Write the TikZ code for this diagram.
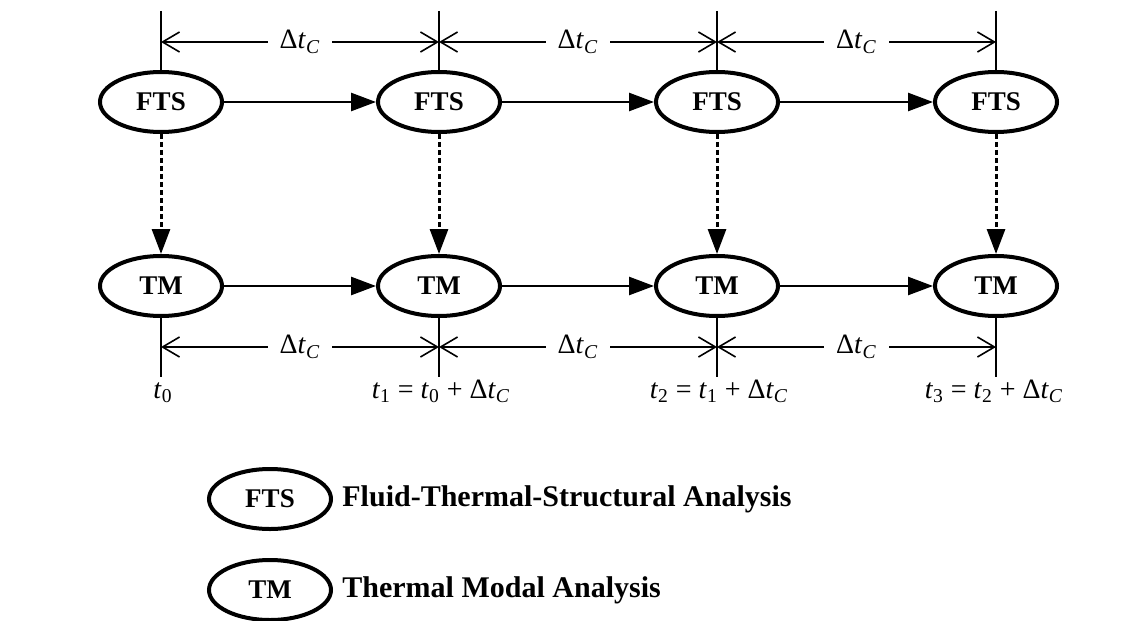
\documentclass[tikz,border=0pt]{standalone}
\usepackage{fontspec}
\setmainfont{Liberation Serif}
\usetikzlibrary{positioning,arrows.meta,shapes.geometric}

\newcommand{\dtc}{Δ\textit{t}\textsubscript{\textit{C}}}
\newcommand{\tk}[1]{\textit{t}\textsubscript{#1}}

\tikzset{
  stage/.style={ellipse, draw, line width=2pt, minimum width=61pt, minimum height=30pt,
    inner sep=0pt, font=\fontsize{13.5}{16}\selectfont\bfseries},
  flow/.style={-{Triangle[length=12.5pt,width=9pt]}, line width=1.3pt},
  couple/.style={flow, line width=1.5pt, dash pattern=on 2.5pt off 1.5pt},
  span/.style={{Straight Barb[length=8.5pt,width=10pt]}-{Straight Barb[length=8.5pt,width=10pt]}, line width=0.8pt},
  tick/.style={line width=0.8pt},
  dlabel/.style={fill=white, inner xsep=6pt, font=\fontsize{14}{16}\selectfont},
  tlabel/.style={anchor=base, inner sep=0pt, font=\fontsize{14}{16}\selectfont},
  keytext/.style={inner xsep=0pt, font=\fontsize{15}{18}\selectfont\bfseries}
}

\begin{document}
\begin{tikzpicture}[x=0.5pt, y=-0.5pt]
  \useasboundingbox (0,0) rectangle (1143,620);

  % stages in time, coupled top to bottom
  \foreach \i/\x in {0/161, 1/439, 2/717, 3/996} {
    \node[stage] (fts\i) at (\x,102) {FTS};
    \node[stage] (tm\i) at (\x,286) {TM};
    \coordinate (up\i) at (\x,11);
    \coordinate (dtop\i) at (\x,42);
    \coordinate (dbot\i) at (\x,347);
    \coordinate (down\i) at (\x,377);
    \draw[tick] (up\i) -- (fts\i.north);
    \draw[tick] (tm\i.south) -- (down\i);
    \draw[couple] (fts\i) -- (tm\i);
  }

  % time steps
  \foreach \i/\j in {0/1, 1/2, 2/3} {
    \draw[flow] (fts\i) -- (fts\j);
    \draw[flow] (tm\i) -- (tm\j);
    \draw[span] (dtop\i) -- node[dlabel] (dtc\i) {\dtc} (dtop\j);
    \draw[span] (dbot\i) -- node[dlabel] (dtcb\i) {\dtc} (dbot\j);
  }

  \node[tlabel] (t0) at (163,398) {\tk{0}};
  \node[tlabel] (t1) at (441,398) {\tk{1} = \tk{0} + \dtc};
  \node[tlabel] (t2) at (719,398) {\tk{2} = \tk{1} + \dtc};
  \node[tlabel] (t3) at (994,398) {\tk{3} = \tk{2} + \dtc};

  % legend
  \node[stage] (keyfts) at (270,499) {FTS};
  \node[keytext, right=4.5pt of keyfts] (keyftstext) {Fluid-Thermal-Structural Analysis};
  \node[stage] (keytm) at (270,590) {TM};
  \node[keytext, right=4.5pt of keytm] (keytmtext) {Thermal Modal Analysis};
\end{tikzpicture}
\end{document}
